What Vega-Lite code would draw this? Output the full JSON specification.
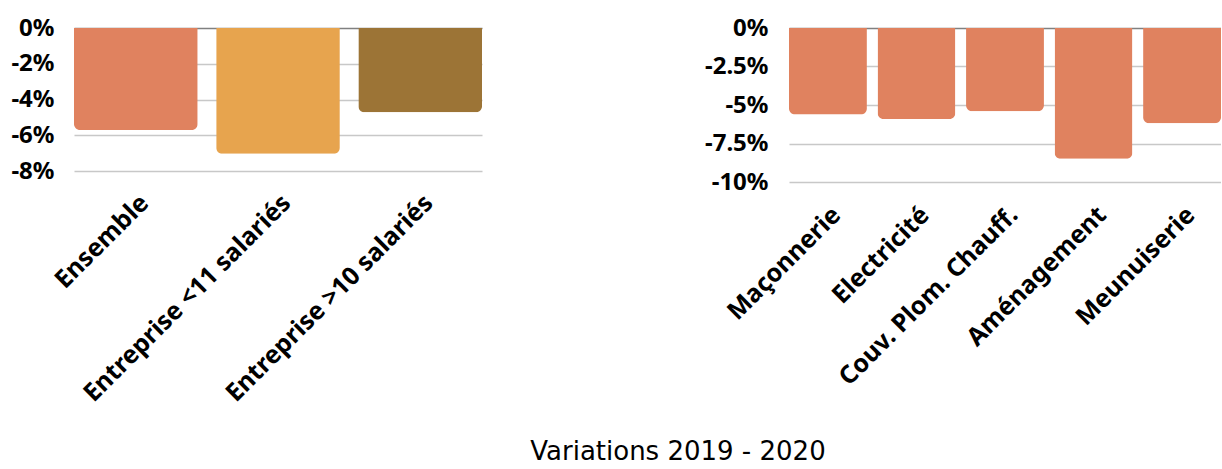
{
  "$schema": "https://vega.github.io/schema/vega-lite/v6.json",
  "padding": {"left": 10, "top": 16, "right": 0, "bottom": 4},
  "datasets": {
    "taille": [
      {"categorie": "Ensemble", "variation": -0.057},
      {"categorie": "Entreprise <11 salariés", "variation": -0.0704},
      {"categorie": "Entreprise >10 salariés", "variation": -0.0471}
    ],
    "metier": [
      {"metier": "Maçonnerie", "variation": -0.0561},
      {"metier": "Electricité", "variation": -0.0591},
      {"metier": "Couv. Plom. Chauff.", "variation": -0.0541},
      {"metier": "Aménagement", "variation": -0.0849},
      {"metier": "Meunuiserie", "variation": -0.0619}
    ]
  },
  "title": {
    "text": "Variations 2019 - 2020",
    "orient": "bottom",
    "anchor": "middle",
    "font": "DejaVu Sans",
    "fontSize": 26,
    "fontWeight": "normal",
    "color": "#000000",
    "dx": 62,
    "offset": 33
  },
  "bounds": "flush",
  "spacing": 307,
  "hconcat": [
    {
      "width": 408,
      "height": 143,
      "data": {"name": "taille"},
      "mark": {"type": "bar", "cornerRadiusBottomLeft": 6, "cornerRadiusBottomRight": 6},
      "encoding": {
        "x": {"field": "categorie", "type": "nominal", "sort": null,
          "scale": {"paddingInner": 0.13, "paddingOuter": 0},
          "axis": {"title": null, "labelAngle": -45, "labelLimit": 0, "labelFont": "Noto Sans", "labelFontWeight": "bold", "labelFontSize": 25, "labelColor": "#000000", "ticks": false, "domain": false, "labelPadding": 19}},
        "y": {"field": "variation", "type": "quantitative",
          "scale": {"domain": [-0.08, 0], "nice": false},
          "axis": {"title": null, "format": ".0%", "labelExpr": "replace(datum.label, '−', '-')", "labelOverlap": false, "values": [0, -0.02, -0.04, -0.06, -0.08], "labelFont": "Noto Sans", "labelFontWeight": "bold", "labelFontSize": 24, "labelColor": "#000000", "ticks": false, "domain": false, "labelPadding": 20,
            "gridColor": {"condition": {"test": "datum.value === 0", "value": "#808080"}, "value": "#C8C8C8"}, "gridWidth": 1.3}},
        "color": {"field": "categorie", "type": "nominal", "legend": null,
          "scale": {"domain": ["Ensemble", "Entreprise <11 salariés", "Entreprise >10 salariés"], "range": ["#E0825F", "#E7A44E", "#9C7436"]}}
      }
    },
    {
      "width": 432,
      "height": 154,
      "data": {"name": "metier"},
      "mark": {"type": "bar", "color": "#E0825F", "cornerRadiusBottomLeft": 6, "cornerRadiusBottomRight": 6},
      "encoding": {
        "x": {"field": "metier", "type": "nominal", "sort": null,
          "scale": {"paddingInner": 0.12, "paddingOuter": 0},
          "axis": {"title": null, "labelAngle": -45, "labelLimit": 0, "labelFont": "Noto Sans", "labelFontWeight": "bold", "labelFontSize": 25, "labelColor": "#000000", "ticks": false, "domain": false, "labelPadding": 20}},
        "y": {"field": "variation", "type": "quantitative",
          "scale": {"domain": [-0.1, 0], "nice": false},
          "axis": {"title": null, "format": ".3~%", "labelExpr": "replace(datum.label, '−', '-')", "labelOverlap": false, "values": [0, -0.025, -0.05, -0.075, -0.1], "labelFont": "Noto Sans", "labelFontWeight": "bold", "labelFontSize": 24, "labelColor": "#000000", "ticks": false, "domain": false, "labelPadding": 21,
            "gridColor": {"condition": {"test": "datum.value === 0", "value": "#808080"}, "value": "#C8C8C8"}, "gridWidth": 1.3}}
      }
    }
  ],
  "config": {"view": {"stroke": null}, "background": "#FFFFFF"}
}
